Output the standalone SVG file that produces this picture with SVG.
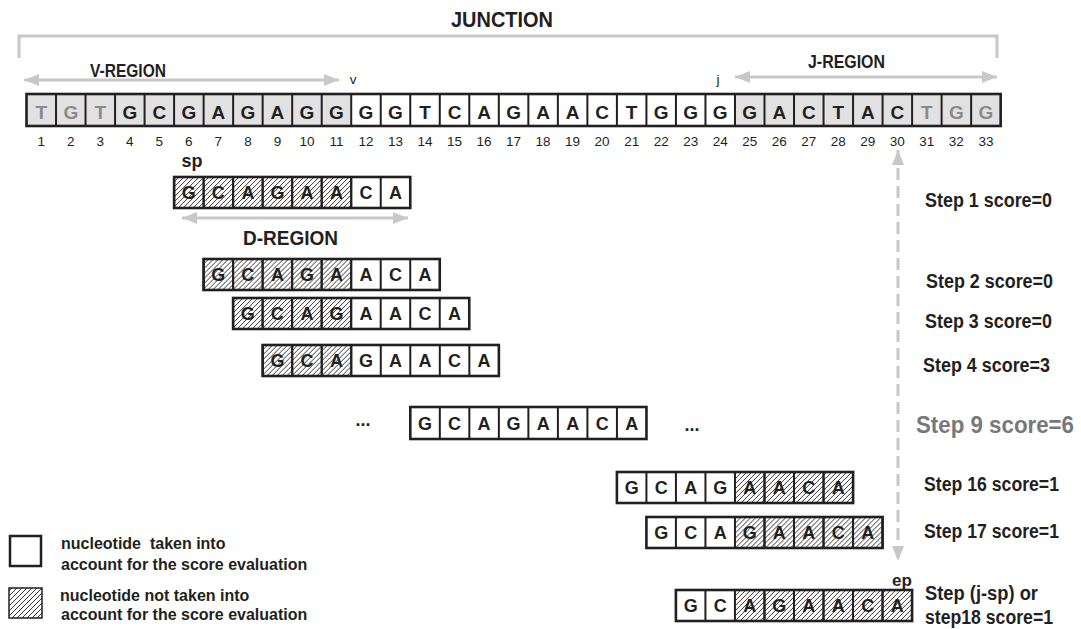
<svg xmlns="http://www.w3.org/2000/svg" width="1081" height="629" viewBox="0 0 1081 629">
<style>
.b{font-family:"Liberation Sans",Arial,sans-serif;font-weight:bold;fill:#231f20}
.t{font-family:"Liberation Sans",Arial,sans-serif;font-weight:bold;font-size:18px;text-anchor:middle;fill:#231f20}
.mt{font-size:19px}
.lt{fill:#8a8a8a}
.n{font-family:"Liberation Sans",Arial,sans-serif;font-size:13.5px;text-anchor:middle;fill:#231f20}
.c{fill:#fff;stroke:#231f20;stroke-width:2}
.h{fill:url(#hatch);stroke:#231f20;stroke-width:2}
.o{fill:none;stroke:#231f20;stroke-width:2.6}
.gr{fill:#e1e1e1}
.dv{fill:none;stroke:#231f20;stroke-width:2}
.arr{fill:none;stroke:#c8c8c8;stroke-width:3;marker-start:url(#ah);marker-end:url(#ah)}
.st{font-size:20px}
</style>
<defs>
<pattern id="hatch" width="5" height="5" patternUnits="userSpaceOnUse">
<path d="M-1,1 L1,-1 M0,5 L5,0 M4,6 L6,4" stroke="#231f20" stroke-width="0.9"/>
</pattern>
<marker id="ah" markerUnits="userSpaceOnUse" markerWidth="16" markerHeight="13" refX="15" refY="6" orient="auto-start-reverse">
<path d="M0,0 L15,6 L0,12 z" fill="#c8c8c8"/>
</marker>
</defs>

<g id="connectors">
<path id="junction-bracket" d="M19,58 V36 H997 V58" fill="none" stroke="#c8c8c8" stroke-width="3"/>
<line id="v-region-arrow" class="arr" x1="24" y1="80" x2="339" y2="80"/>
<line id="j-region-arrow" class="arr" x1="735" y1="77" x2="997" y2="77"/>
<line id="d-region-arrow" class="arr" x1="182" y1="218" x2="408" y2="218"/>
<line id="step-arrow" class="arr" x1="898" y1="150" x2="898" y2="561" stroke-dasharray="12 6"/>
</g>

<g id="labels">
<text class="b" x="502" y="27" font-size="22" text-anchor="middle" textLength="102" lengthAdjust="spacingAndGlyphs">JUNCTION</text>
<text class="b" x="90" y="77" font-size="18" textLength="76" lengthAdjust="spacingAndGlyphs">V-REGION</text>
<text class="b" x="808" y="68" font-size="18" textLength="77" lengthAdjust="spacingAndGlyphs">J-REGION</text>
<text class="b" x="243" y="245" font-size="20" textLength="95" lengthAdjust="spacingAndGlyphs">D-REGION</text>
<text class="n" x="353" y="84" font-size="14" fill="#333">v</text>
<text class="n" x="718" y="84" font-size="14" fill="#333">j</text>
<text class="b" x="192" y="167" font-size="18" text-anchor="middle">sp</text>
<text class="b" x="902" y="586" font-size="17" text-anchor="middle">ep</text>
<text class="b" x="363" y="426" font-size="18" text-anchor="middle">...</text>
<text class="b" x="692" y="431" font-size="18" text-anchor="middle">...</text>
</g>

<g id="junction-sequence" transform="translate(26.5,94)">
<rect class="gr" x="0" y="0" width="324.72" height="32"/>
<rect fill="#fff" x="324.72" y="0" width="383.76" height="32"/>
<rect class="gr" x="708.48" y="0" width="265.68" height="32"/>
<path class="dv" d="M29.52,0V32M59.04,0V32M88.56,0V32M118.08,0V32M147.6,0V32M177.12,0V32M206.64,0V32M236.16,0V32M265.68,0V32M295.2,0V32M324.72,0V32M354.24,0V32M383.76,0V32M413.28,0V32M442.8,0V32M472.32,0V32M501.84,0V32M531.36,0V32M560.88,0V32M590.4,0V32M619.92,0V32M649.44,0V32M678.96,0V32M708.48,0V32M738,0V32M767.52,0V32M797.04,0V32M826.56,0V32M856.08,0V32M885.6,0V32M915.12,0V32M944.64,0V32"/>
<rect class="o" x="0" y="0" width="974.16" height="32"/>
<g class="t mt">
<text class="lt" x="14.76" y="25">T</text>
<text class="lt" x="44.28" y="25">G</text>
<text class="lt" x="73.8" y="25">T</text>
<text x="103.32" y="25">G</text>
<text x="132.84" y="25">C</text>
<text x="162.36" y="25">G</text>
<text x="191.88" y="25">A</text>
<text x="221.4" y="25">G</text>
<text x="250.92" y="25">A</text>
<text x="280.44" y="25">G</text>
<text x="309.96" y="25">G</text>
<text x="339.48" y="25">G</text>
<text x="369" y="25">G</text>
<text x="398.52" y="25">T</text>
<text x="428.04" y="25">C</text>
<text x="457.56" y="25">A</text>
<text x="487.08" y="25">G</text>
<text x="516.6" y="25">A</text>
<text x="546.12" y="25">A</text>
<text x="575.64" y="25">C</text>
<text x="605.16" y="25">T</text>
<text x="634.68" y="25">G</text>
<text x="664.2" y="25">G</text>
<text x="693.72" y="25">G</text>
<text x="723.24" y="25">G</text>
<text x="752.76" y="25">A</text>
<text x="782.28" y="25">C</text>
<text x="811.8" y="25">T</text>
<text x="841.32" y="25">A</text>
<text x="870.84" y="25">C</text>
<text class="lt" x="900.36" y="25">T</text>
<text class="lt" x="929.88" y="25">G</text>
<text class="lt" x="959.4" y="25">G</text>
</g>
<g class="n">
<text x="14.76" y="52">1</text><text x="44.28" y="52">2</text><text x="73.8" y="52">3</text><text x="103.32" y="52">4</text><text x="132.84" y="52">5</text><text x="162.36" y="52">6</text><text x="191.88" y="52">7</text><text x="221.4" y="52">8</text><text x="250.92" y="52">9</text><text x="280.44" y="52">10</text><text x="309.96" y="52">11</text><text x="339.48" y="52">12</text><text x="369" y="52">13</text><text x="398.52" y="52">14</text><text x="428.04" y="52">15</text><text x="457.56" y="52">16</text><text x="487.08" y="52">17</text><text x="516.6" y="52">18</text><text x="546.12" y="52">19</text><text x="575.64" y="52">20</text><text x="605.16" y="52">21</text><text x="634.68" y="52">22</text><text x="664.2" y="52">23</text><text x="693.72" y="52">24</text><text x="723.24" y="52">25</text><text x="752.76" y="52">26</text><text x="782.28" y="52">27</text><text x="811.8" y="52">28</text><text x="841.32" y="52">29</text><text x="870.84" y="52">30</text><text x="900.36" y="52">31</text><text x="929.88" y="52">32</text><text x="959.4" y="52">33</text>
</g>
</g>

<g id="step1" transform="translate(174.1,177)">
<g class="t"><text x="14.76" y="22">G</text><text x="44.28" y="22">C</text><text x="73.8" y="22">A</text><text x="103.32" y="22">G</text><text x="132.84" y="22">A</text><text x="162.36" y="22">A</text><text x="191.88" y="22">C</text><text x="221.4" y="22">A</text></g>
<rect class="h" x="0" y="0" width="29.52" height="31"/><rect class="h" x="29.52" y="0" width="29.52" height="31"/><rect class="h" x="59.04" y="0" width="29.52" height="31"/><rect class="h" x="88.56" y="0" width="29.52" height="31"/><rect class="h" x="118.08" y="0" width="29.52" height="31"/><rect class="h" x="147.6" y="0" width="29.52" height="31"/>
<path class="dv" d="M177.12,0V31M206.64,0V31"/>
<rect class="o" x="0" y="0" width="236.16" height="31"/>
</g>

<g id="step2" transform="translate(203.6,259)">
<g class="t"><text x="14.76" y="22">G</text><text x="44.28" y="22">C</text><text x="73.8" y="22">A</text><text x="103.32" y="22">G</text><text x="132.84" y="22">A</text><text x="162.36" y="22">A</text><text x="191.88" y="22">C</text><text x="221.4" y="22">A</text></g>
<rect class="h" x="0" y="0" width="29.52" height="31"/><rect class="h" x="29.52" y="0" width="29.52" height="31"/><rect class="h" x="59.04" y="0" width="29.52" height="31"/><rect class="h" x="88.56" y="0" width="29.52" height="31"/><rect class="h" x="118.08" y="0" width="29.52" height="31"/>
<path class="dv" d="M147.6,0V31M177.12,0V31M206.64,0V31"/>
<rect class="o" x="0" y="0" width="236.16" height="31"/>
</g>

<g id="step3" transform="translate(233.1,298)">
<g class="t"><text x="14.76" y="22">G</text><text x="44.28" y="22">C</text><text x="73.8" y="22">A</text><text x="103.32" y="22">G</text><text x="132.84" y="22">A</text><text x="162.36" y="22">A</text><text x="191.88" y="22">C</text><text x="221.4" y="22">A</text></g>
<rect class="h" x="0" y="0" width="29.52" height="31"/><rect class="h" x="29.52" y="0" width="29.52" height="31"/><rect class="h" x="59.04" y="0" width="29.52" height="31"/><rect class="h" x="88.56" y="0" width="29.52" height="31"/>
<path class="dv" d="M118.08,0V31M147.6,0V31M177.12,0V31M206.64,0V31"/>
<rect class="o" x="0" y="0" width="236.16" height="31"/>
</g>

<g id="step4" transform="translate(262.7,345)">
<g class="t"><text x="14.76" y="22">G</text><text x="44.28" y="22">C</text><text x="73.8" y="22">A</text><text x="103.32" y="22">G</text><text x="132.84" y="22">A</text><text x="162.36" y="22">A</text><text x="191.88" y="22">C</text><text x="221.4" y="22">A</text></g>
<rect class="h" x="0" y="0" width="29.52" height="31"/><rect class="h" x="29.52" y="0" width="29.52" height="31"/><rect class="h" x="59.04" y="0" width="29.52" height="31"/>
<path class="dv" d="M88.56,0V31M118.08,0V31M147.6,0V31M177.12,0V31M206.64,0V31"/>
<rect class="o" x="0" y="0" width="236.16" height="31"/>
</g>

<g id="step9" transform="translate(410.3,407)">
<g class="t"><text x="14.76" y="23">G</text><text x="44.28" y="23">C</text><text x="73.8" y="23">A</text><text x="103.32" y="23">G</text><text x="132.84" y="23">A</text><text x="162.36" y="23">A</text><text x="191.88" y="23">C</text><text x="221.4" y="23">A</text></g>
<path class="dv" d="M29.52,0V32M59.04,0V32M88.56,0V32M118.08,0V32M147.6,0V32M177.12,0V32M206.64,0V32"/>
<rect class="o" x="0" y="0" width="236.16" height="32"/>
</g>

<g id="step16" transform="translate(616.9,472)">
<g class="t"><text x="14.76" y="22">G</text><text x="44.28" y="22">C</text><text x="73.8" y="22">A</text><text x="103.32" y="22">G</text><text x="132.84" y="22">A</text><text x="162.36" y="22">A</text><text x="191.88" y="22">C</text><text x="221.4" y="22">A</text></g>
<rect class="h" x="118.08" y="0" width="29.52" height="31"/><rect class="h" x="147.6" y="0" width="29.52" height="31"/><rect class="h" x="177.12" y="0" width="29.52" height="31"/><rect class="h" x="206.64" y="0" width="29.52" height="31"/>
<path class="dv" d="M29.52,0V31M59.04,0V31M88.56,0V31"/>
<rect class="o" x="0" y="0" width="236.16" height="31"/>
</g>

<g id="step17" transform="translate(646.4,517)">
<g class="t"><text x="14.76" y="22">G</text><text x="44.28" y="22">C</text><text x="73.8" y="22">A</text><text x="103.32" y="22">G</text><text x="132.84" y="22">A</text><text x="162.36" y="22">A</text><text x="191.88" y="22">C</text><text x="221.4" y="22">A</text></g>
<rect class="h" x="88.56" y="0" width="29.52" height="31"/><rect class="h" x="118.08" y="0" width="29.52" height="31"/><rect class="h" x="147.6" y="0" width="29.52" height="31"/><rect class="h" x="177.12" y="0" width="29.52" height="31"/><rect class="h" x="206.64" y="0" width="29.52" height="31"/>
<path class="dv" d="M29.52,0V31M59.04,0V31"/>
<rect class="o" x="0" y="0" width="236.16" height="31"/>
</g>

<g id="step18" transform="translate(675.9,590)">
<g class="t"><text x="14.76" y="22">G</text><text x="44.28" y="22">C</text><text x="73.8" y="22">A</text><text x="103.32" y="22">G</text><text x="132.84" y="22">A</text><text x="162.36" y="22">A</text><text x="191.88" y="22">C</text><text x="221.4" y="22">A</text></g>
<rect class="h" x="59.04" y="0" width="29.52" height="31"/><rect class="h" x="88.56" y="0" width="29.52" height="31"/><rect class="h" x="118.08" y="0" width="29.52" height="31"/><rect class="h" x="147.6" y="0" width="29.52" height="31"/><rect class="h" x="177.12" y="0" width="29.52" height="31"/><rect class="h" x="206.64" y="0" width="29.52" height="31"/>
<path class="dv" d="M29.52,0V31"/>
<rect class="o" x="0" y="0" width="236.16" height="31"/>
</g>

<g id="step-scores" class="b st">
<text x="925" y="207" textLength="127" lengthAdjust="spacingAndGlyphs">Step 1 score=0</text>
<text x="926" y="288" textLength="127" lengthAdjust="spacingAndGlyphs">Step 2 score=0</text>
<text x="925" y="328" textLength="127" lengthAdjust="spacingAndGlyphs">Step 3 score=0</text>
<text x="923" y="372" textLength="127" lengthAdjust="spacingAndGlyphs">Step 4 score=3</text>
<text x="916" y="433" font-size="23" style="fill:#77787b" textLength="158" lengthAdjust="spacingAndGlyphs">Step 9 score=6</text>
<text x="924" y="491" textLength="135" lengthAdjust="spacingAndGlyphs">Step 16 score=1</text>
<text x="924" y="538" textLength="135" lengthAdjust="spacingAndGlyphs">Step 17 score=1</text>
<text x="925" y="600" textLength="113" lengthAdjust="spacingAndGlyphs">Step (j-sp) or</text>
<text x="925" y="624" textLength="128" lengthAdjust="spacingAndGlyphs">step18 score=1</text>
</g>

<g id="legend">
<rect x="10" y="536" width="31" height="30" fill="#fff" stroke="#231f20" stroke-width="2.5"/>
<rect x="9" y="588" width="33" height="30" fill="url(#hatch)" stroke="#231f20" stroke-width="1.5"/>
<g class="b" font-size="16">
<text x="61" y="549" xml:space="preserve">nucleotide  taken into</text>
<text x="61" y="570">account for the score evaluation</text>
<text x="60" y="601">nucleotide not taken into</text>
<text x="61" y="620">account for the score evaluation</text>
</g>
</g>
</svg>
